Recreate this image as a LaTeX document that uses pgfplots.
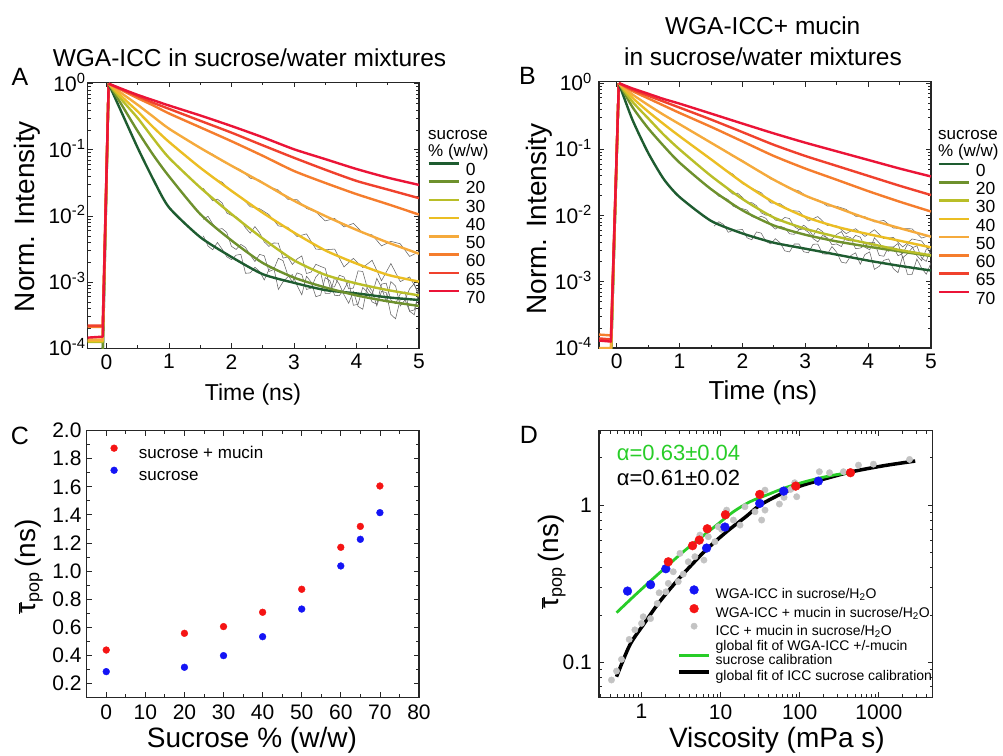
\documentclass[border=0pt]{standalone}
\usepackage{fontspec}
\setmainfont{Liberation Sans}
\usepackage{pgfplots}
\pgfplotsset{compat=1.18}

\definecolor{c0}{RGB}{30,92,48}
\definecolor{c20}{RGB}{110,145,45}
\definecolor{c30}{RGB}{185,190,40}
\definecolor{c40}{RGB}{235,190,35}
\definecolor{c50}{RGB}{245,170,60}
\definecolor{c60}{RGB}{245,125,45}
\definecolor{c65}{RGB}{240,65,45}
\definecolor{c70}{RGB}{235,20,55}
\definecolor{noisegray}{RGB}{100,100,100}
\definecolor{dblue}{RGB}{20,20,245}
\definecolor{dred}{RGB}{245,20,20}
\definecolor{dgray}{RGB}{195,195,195}
\definecolor{fitgreen}{RGB}{40,205,40}

\newcommand\fs[1]{\fontsize{#1}{#1}\selectfont}

\pgfplotsset{
 panel/.style={
  scale only axis, anchor=south west,
  axis line style={line width=1.1pt, black!85},
  every tick/.append style={line width=0.8pt, black!85},
  major tick length=5pt, minor tick length=3pt,
  tick align=inside,
  tick label style={font=\fs{21}},
  label style={font=\fs{28}},
 },
 curve/.style={line width=2.4pt, line join=round, smooth, tension=0.4},
 rise/.style={line width=2.4pt, line join=round, forget plot},
 noise/.style={noisegray, line width=0.55pt, forget plot},
 decaylegend/.style={
  legend style={draw=none, fill=none, inner sep=0pt, font=\fs{17.5}, row sep=4.7pt,
    nodes={inner sep=0pt, text height=12.5pt, text depth=0pt}},
  legend image code/.code={\draw[##1, line width=2.6pt] (0pt,6pt) -- (30pt,6pt);},
  legend cell align=left,
 },
 dotlegC/.style={legend image code/.code={\draw[##1] plot coordinates {(3.5pt,4.3pt)};}},
 dotlegD/.style={legend image code/.code={\draw[##1] plot coordinates {(15.3pt,4.5pt)};}},
 linelegD/.style={legend image code/.code={\draw[##1] (0pt,4.5pt) -- (30.6pt,4.5pt);}},
 linelegDtwo/.style={legend image code/.code={\draw[##1] (0pt,-2.5pt) -- (30.6pt,-2.5pt);}},
 logminor/.style={
  minor ytick={2e-4,3e-4,4e-4,5e-4,6e-4,7e-4,8e-4,9e-4,2e-3,3e-3,4e-3,5e-3,6e-3,7e-3,8e-3,9e-3,0.02,0.03,0.04,0.05,0.06,0.07,0.08,0.09,0.2,0.3,0.4,0.5,0.6,0.7,0.8,0.9},
  ytick={1e-4,1e-3,1e-2,1e-1,1},
  yticklabels={10\textsuperscript{-4},10\textsuperscript{-3},10\textsuperscript{-2},10\textsuperscript{-1},10\textsuperscript{0}},
  xtick={0,1,2,3,4,5}, xticklabels={0,1,2,3,4,5},
  minor xtick={0.5,1.5,2.5,3.5,4.5},
 },
}

\begin{document}
\begin{tikzpicture}[x=1pt,y=1pt]
\useasboundingbox (0,0) rectangle (1003,755);

% ---------------- Panel A ----------------
\begin{axis}[panel, decaylegend, logminor, at={(87.7pt,406.7pt)}, width=331.3pt, height=266pt,
  xmin=-0.3, xmax=5, ymode=log, ymin=1e-4, ymax=1.05,
  yticklabel style={anchor=base east, yshift=-7.5pt, inner xsep=2pt},
  xticklabel style={inner ysep=6pt},
  xlabel={Time (ns)}, ylabel={Norm. Intensity},
  xlabel style={at={(axis description cs:0.499,-0.172)}, anchor=center, font=\fs{23}},
  ylabel style={at={(axis description cs:-0.182,0.495)}, anchor=center},
  legend style={at={(axis description cs:1.0242,0.7008)}, anchor=north west, column sep=6pt},
]
\addplot[noise] coordinates {(1.55,0.0990)(1.70,0.0861)(1.85,0.0673)(2.00,0.0578)(2.15,0.0498)(2.30,0.0372)(2.45,0.0348)(2.60,0.0277)(2.75,0.0247)(2.90,0.0179)(3.05,0.0176)(3.20,0.0130)(3.35,0.0115)(3.50,0.00843)(3.65,0.00917)(3.80,0.00684)(3.95,0.00772)(4.10,0.00555)(4.25,0.00519)(4.40,0.00353)(4.55,0.00414)(4.70,0.00380)(4.85,0.00245)(5.00,0.00288)};
\addplot[noise] coordinates {(1.55,0.0501)(1.70,0.0380)(1.85,0.0324)(2.00,0.0234)(2.15,0.0195)(2.30,0.0138)(2.45,0.0129)(2.60,0.0105)(2.75,0.00708)(2.90,0.00676)(3.05,0.00490)(3.20,0.00537)(3.35,0.00316)(3.50,0.00309)(3.65,0.00316)(3.80,0.00170)(3.95,0.00229)(4.10,0.00166)(4.25,0.00214)(4.40,0.00105)(4.55,0.00191)(4.70,0.00102)(4.85,0.00120)(5.00,0.000676)};
\addplot[noise] coordinates {(1.55,0.0263)(1.625,0.0207)(1.70,0.0170)(1.775,0.0180)(1.85,0.0158)(1.925,0.0111)(2.00,0.0102)(2.075,0.00973)(2.15,0.00851)(2.225,0.00661)(2.30,0.00550)(2.375,0.00692)(2.45,0.00556)(2.525,0.00405)(2.60,0.00347)(2.675,0.00391)(2.75,0.00389)(2.825,0.00231)(2.90,0.00240)(2.975,0.00185)(3.05,0.00224)(3.125,0.00249)(3.20,0.00135)(3.275,0.00142)(3.35,0.00186)(3.425,0.00173)(3.50,0.00162)(3.575,0.000841)(3.65,0.000851)(3.725,0.00127)(3.80,0.00120)(3.875,0.000793)(3.95,0.000813)(4.025,0.00148)(4.10,0.00145)(4.175,0.000804)(4.25,0.000646)(4.325,0.00114)(4.40,0.000832)(4.475,0.000507)(4.55,0.00102)(4.625,0.000875)(4.70,0.000437)(4.775,0.000537)(4.85,0.000794)(4.925,0.000951)(5.00,0.000575)};
\addplot[noise] coordinates {(1.55,0.00891)(1.625,0.00989)(1.70,0.00759)(1.775,0.00624)(1.85,0.00646)(1.925,0.00562)(2.00,0.00347)(2.075,0.00312)(2.15,0.00372)(2.225,0.00334)(2.30,0.00257)(2.375,0.00205)(2.45,0.00263)(2.525,0.00250)(2.60,0.00145)(2.675,0.00155)(2.75,0.00229)(2.825,0.00211)(2.90,0.00129)(2.975,0.00101)(3.05,0.00138)(3.125,0.00130)(3.20,0.000776)(3.275,0.000811)(3.35,0.00120)(3.425,0.00143)(3.50,0.000676)(3.575,0.000676)(3.65,0.00117)(3.725,0.000933)(3.80,0.000646)(3.875,0.000480)(3.95,0.000724)(4.025,0.000431)(4.10,0.000389)(4.175,0.000897)(4.25,0.000741)(4.325,0.000437)(4.40,0.000724)(4.475,0.000697)(4.55,0.000324)(4.625,0.000279)(4.70,0.000550)(4.775,0.000546)(4.85,0.000363)(4.925,0.000321)(5.00,0.000759)};
\addplot[noise] coordinates {(1.55,0.00501)(1.625,0.00351)(1.70,0.00309)(1.775,0.00398)(1.85,0.00316)(1.925,0.00242)(2.00,0.00219)(2.075,0.00256)(2.15,0.00263)(2.225,0.00136)(2.30,0.00138)(2.375,0.00168)(2.45,0.00145)(2.525,0.00108)(2.60,0.00155)(2.675,0.00168)(2.75,0.000776)(2.825,0.00101)(2.90,0.00120)(2.975,0.00130)(3.05,0.000891)(3.125,0.000642)(3.20,0.00123)(3.275,0.00100)(3.35,0.000603)(3.425,0.000635)(3.50,0.00117)(3.575,0.00105)(3.65,0.000631)(3.725,0.000626)(3.80,0.000776)(3.875,0.00105)(3.95,0.000447)(4.025,0.000462)(4.10,0.000832)(4.175,0.000708)(4.25,0.000501)(4.325,0.000465)(4.40,0.000933)(4.475,0.000966)(4.55,0.000537)(4.625,0.000472)(4.70,0.000661)(4.775,0.000716)(4.85,0.000363)(4.925,0.000381)(5.00,0.000724)};
% rising edges (instrument response)
\addplot[rise, c0] coordinates {(-0.3,7e-5)(-0.06,7e-5)(0.035,1)};
\addplot[rise, c20] coordinates {(-0.3,9e-5)(-0.06,9e-5)(0.035,1)};
\addplot[rise, c30] coordinates {(-0.3,1.25e-4)(-0.06,1.25e-4)(0.035,1)};
\addplot[rise, c40] coordinates {(-0.3,1.3e-4)(-0.06,1.3e-4)(0.035,1)};
\addplot[rise, c50] coordinates {(-0.3,1.35e-4)(-0.06,1.35e-4)(0.035,1)};
\addplot[rise, c60] coordinates {(-0.3,2.1e-4)(-0.06,2.1e-4)(0.035,1)};
\addplot[rise, c65] coordinates {(-0.3,2.2e-4)(-0.06,2.2e-4)(0.035,1)};
\addplot[rise, c70] coordinates {(-0.3,1.45e-4)(-0.06,1.5e-4)(0.035,1)};
% decays
\addplot[curve, c0] coordinates {(0.035,1)(0.25,0.355)(0.5,0.107)(0.75,0.0355)(1,0.0135)(1.5,0.00479)(2,0.00240)(2.5,0.00132)(3,0.000977)(3.5,0.000759)(4,0.000676)(4.5,0.000589)(5,0.000537)};
\addlegendentry{0}
\addplot[curve, c20] coordinates {(0.035,1)(0.25,0.468)(0.5,0.191)(0.75,0.0832)(1,0.0398)(1.5,0.0107)(2,0.00427)(2.5,0.00195)(3,0.00117)(3.5,0.000832)(4,0.000631)(4.5,0.000513)(5,0.000437)};
\addlegendentry{20}
\addplot[curve, c30] coordinates {(0.035,1)(0.25,0.562)(0.5,0.302)(0.75,0.148)(1,0.0759)(1.5,0.0269)(2,0.0107)(2.5,0.00457)(3,0.00214)(3.5,0.00129)(4,0.000955)(4.5,0.000759)(5,0.000631)};
\addlegendentry{30}
\addplot[curve, c40] coordinates {(0.035,1)(0.25,0.631)(0.5,0.380)(0.75,0.219)(1,0.132)(1.5,0.0537)(2,0.0240)(2.5,0.0112)(3,0.00562)(3.5,0.00302)(4,0.00191)(4.5,0.00129)(5,0.00102)};
\addlegendentry{40}
\addplot[curve, c50] coordinates {(0.035,1)(0.25,0.708)(0.5,0.479)(0.75,0.316)(1,0.209)(1.5,0.107)(2,0.0575)(2.5,0.0316)(3,0.0170)(3.5,0.0100)(4,0.00617)(4.5,0.00398)(5,0.00269)};
\addlegendentry{50}
\addplot[curve, c60] coordinates {(0.035,1)(0.25,0.794)(0.5,0.603)(0.75,0.468)(1,0.355)(1.5,0.219)(2,0.135)(2.5,0.0813)(3,0.0479)(3.5,0.0316)(4,0.0214)(4.5,0.0151)(5,0.0105)};
\addlegendentry{60}
\addplot[curve, c65] coordinates {(0.035,1)(0.25,0.813)(0.5,0.646)(0.75,0.513)(1,0.417)(1.5,0.275)(2,0.182)(2.5,0.117)(3,0.0759)(3.5,0.0501)(4,0.0339)(4.5,0.0251)(5,0.0186)};
\addlegendentry{65}
\addplot[curve, c70] coordinates {(0.035,1)(0.25,0.832)(0.5,0.676)(0.75,0.562)(1,0.468)(1.5,0.331)(2,0.229)(2.5,0.155)(3,0.102)(3.5,0.0724)(4,0.0513)(4.5,0.0380)(5,0.0295)};
\addlegendentry{70}
\end{axis}

% ---------------- Panel B ----------------
\begin{axis}[panel, decaylegend, logminor, at={(599pt,407pt)}, width=332pt, height=266.3pt,
  xmin=-0.28, xmax=5, ymode=log, ymin=1e-4, ymax=1.05,
  yticklabel style={anchor=base east, yshift=-7.5pt, inner xsep=7pt},
  xticklabel style={inner ysep=6pt},
  xlabel={Time (ns)}, ylabel={Norm. Intensity},
  xlabel style={at={(axis description cs:0.494,-0.169)}, anchor=center, font=\fs{26}},
  ylabel style={at={(axis description cs:-0.181,0.484)}, anchor=center},
  legend style={at={(axis description cs:1.021,0.696)}, anchor=north west, column sep=5pt},
]
\addplot[noise] coordinates {(1.55,0.117)(1.70,0.0995)(1.85,0.0780)(2.00,0.0682)(2.15,0.0543)(2.30,0.0451)(2.45,0.0356)(2.60,0.0317)(2.75,0.0256)(2.90,0.0236)(3.05,0.0188)(3.20,0.0173)(3.35,0.0139)(3.50,0.0138)(3.65,0.0124)(3.80,0.00977)(3.95,0.00959)(4.10,0.00800)(4.25,0.00843)(4.40,0.00646)(4.55,0.00638)(4.70,0.00630)(4.85,0.00457)(5.00,0.00506)};
\addplot[noise] coordinates {(1.55,0.0652)(1.70,0.0504)(1.85,0.0422)(2.00,0.0303)(2.15,0.0259)(2.30,0.0221)(2.45,0.0155)(2.60,0.0151)(2.75,0.0120)(2.90,0.0116)(3.05,0.00828)(3.20,0.00966)(3.35,0.00706)(3.50,0.00700)(3.65,0.00535)(3.80,0.00634)(3.95,0.00484)(4.10,0.00610)(4.25,0.00447)(4.40,0.00468)(4.55,0.00336)(4.70,0.00443)(4.85,0.00413)(5.00,0.00268)};
\addplot[noise] coordinates {(1.55,0.0359)(1.625,0.0328)(1.70,0.0294)(1.775,0.0243)(1.85,0.0210)(1.925,0.0218)(2.00,0.0188)(2.075,0.0156)(2.15,0.0157)(2.225,0.0141)(2.30,0.0110)(2.375,0.0101)(2.45,0.0104)(2.525,0.00851)(2.60,0.00824)(2.675,0.00935)(2.75,0.00902)(2.825,0.00681)(2.90,0.00614)(2.975,0.00714)(3.05,0.00627)(3.125,0.00493)(3.20,0.00640)(3.275,0.00575)(3.35,0.00432)(3.425,0.00444)(3.50,0.00520)(3.575,0.00572)(3.65,0.00428)(3.725,0.00413)(3.80,0.00501)(3.875,0.00473)(3.95,0.00331)(4.025,0.00304)(4.10,0.00462)(4.175,0.00387)(4.25,0.00314)(4.325,0.00288)(4.40,0.00333)(4.475,0.00379)(4.55,0.00230)(4.625,0.00265)(4.70,0.00324)(4.775,0.00351)(4.85,0.00228)(4.925,0.00203)(5.00,0.00329)};
\addplot[noise] coordinates {(1.55,0.0230)(1.625,0.0195)(1.70,0.0189)(1.775,0.0174)(1.85,0.0139)(1.925,0.0129)(2.00,0.0127)(2.075,0.0121)(2.15,0.00966)(2.225,0.00910)(2.30,0.00976)(2.375,0.00906)(2.45,0.00721)(2.525,0.00624)(2.60,0.00691)(2.675,0.00651)(2.75,0.00530)(2.825,0.00521)(2.90,0.00610)(2.975,0.00627)(3.05,0.00560)(3.125,0.00449)(3.20,0.00400)(3.275,0.00500)(3.35,0.00465)(3.425,0.00363)(3.50,0.00373)(3.575,0.00340)(3.65,0.00490)(3.725,0.00462)(3.80,0.00316)(3.875,0.00323)(3.95,0.00355)(4.025,0.00393)(4.10,0.00395)(4.175,0.00250)(4.25,0.00243)(4.325,0.00335)(4.40,0.00337)(4.475,0.00247)(4.55,0.00267)(4.625,0.00365)(4.70,0.00339)(4.775,0.00248)(4.85,0.00208)(4.925,0.00310)(5.00,0.00331)};
\addplot[noise] coordinates {(1.55,0.00692)(1.625,0.00808)(1.70,0.00735)(1.775,0.00559)(1.85,0.00597)(1.925,0.00605)(2.00,0.00617)(2.075,0.00461)(2.15,0.00431)(2.225,0.00566)(2.30,0.00543)(2.375,0.00405)(2.45,0.00374)(2.525,0.00447)(2.60,0.00388)(2.675,0.00293)(2.75,0.00282)(2.825,0.00372)(2.90,0.00372)(2.975,0.00284)(3.05,0.00274)(3.125,0.00368)(3.20,0.00371)(3.275,0.00264)(3.35,0.00261)(3.425,0.00340)(3.50,0.00279)(3.575,0.00198)(3.65,0.00191)(3.725,0.00249)(3.80,0.00274)(3.875,0.00184)(3.95,0.00258)(4.025,0.00283)(4.10,0.00154)(4.175,0.00171)(4.25,0.00211)(4.325,0.00221)(4.40,0.00158)(4.475,0.00137)(4.55,0.00243)(4.625,0.00129)(4.70,0.00130)(4.775,0.00221)(4.85,0.00161)(4.925,0.00130)(5.00,0.00193)};
% rising edges
\addplot[rise, c0] coordinates {(-0.3,7e-5)(-0.09,7e-5)(0.035,1)};
\addplot[rise, c20] coordinates {(-0.3,7e-5)(-0.09,7e-5)(0.035,1)};
\addplot[rise, c30] coordinates {(-0.3,8e-5)(-0.09,8e-5)(0.035,1)};
\addplot[rise, c40] coordinates {(-0.3,9e-5)(-0.09,9e-5)(0.035,1)};
\addplot[rise, c50] coordinates {(-0.3,1.0e-4)(-0.09,1.0e-4)(0.035,1)};
\addplot[rise, c60] coordinates {(-0.3,1.6e-4)(-0.09,1.55e-4)(0.035,1)};
\addplot[rise, c65] coordinates {(-0.3,1.4e-4)(-0.09,1.35e-4)(0.035,1)};
\addplot[rise, c70] coordinates {(-0.3,1.3e-4)(-0.09,1.25e-4)(0.035,1)};
% decays
\addplot[curve, c0] coordinates {(0.035,1)(0.25,0.282)(0.5,0.0891)(0.75,0.0355)(1,0.0191)(1.5,0.00832)(2,0.00537)(2.5,0.00389)(3,0.00316)(3.5,0.00257)(4,0.00209)(4.5,0.00174)(5,0.00148)};
\addlegendentry{0}
\addplot[curve, c20] coordinates {(0.035,1)(0.25,0.437)(0.5,0.209)(0.75,0.112)(1,0.0631)(1.5,0.0251)(2,0.0120)(2.5,0.00708)(3,0.00513)(3.5,0.00407)(4,0.00339)(4.5,0.00288)(5,0.00245)};
\addlegendentry{20}
\addplot[curve, c30] coordinates {(0.035,1)(0.25,0.525)(0.5,0.295)(0.75,0.166)(1,0.100)(1.5,0.0398)(2,0.0178)(2.5,0.00933)(3,0.00631)(3.5,0.00479)(4,0.00380)(4.5,0.00302)(5,0.00251)};
\addlegendentry{30}
\addplot[curve, c40] coordinates {(0.035,1)(0.25,0.603)(0.5,0.372)(0.75,0.240)(1,0.158)(1.5,0.0708)(2,0.0316)(2.5,0.0158)(3,0.00955)(3.5,0.00676)(4,0.00525)(4.5,0.00417)(5,0.00331)};
\addlegendentry{40}
\addplot[curve, c50] coordinates {(0.035,1)(0.25,0.676)(0.5,0.468)(0.75,0.331)(1,0.240)(1.5,0.126)(2,0.0661)(2.5,0.0347)(3,0.0200)(3.5,0.0132)(4,0.00891)(4.5,0.00646)(5,0.00479)};
\addlegendentry{50}
\addplot[curve, c60] coordinates {(0.035,1)(0.25,0.759)(0.5,0.589)(0.75,0.457)(1,0.355)(1.5,0.219)(2,0.132)(2.5,0.0794)(3,0.0513)(3.5,0.0347)(4,0.0234)(4.5,0.0162)(5,0.0115)};
\addlegendentry{60}
\addplot[curve, c65] coordinates {(0.035,1)(0.25,0.794)(0.5,0.646)(0.75,0.525)(1,0.427)(1.5,0.282)(2,0.182)(2.5,0.117)(3,0.0794)(3.5,0.0562)(4,0.0398)(4.5,0.0282)(5,0.0204)};
\addlegendentry{65}
\addplot[curve, c70] coordinates {(0.035,1)(0.25,0.832)(0.5,0.692)(0.75,0.575)(1,0.490)(1.5,0.347)(2,0.245)(2.5,0.174)(3,0.126)(3.5,0.0933)(4,0.0692)(4.5,0.0513)(5,0.0389)};
\addlegendentry{70}
\end{axis}

% ---------------- Panel C ----------------
\begin{axis}[panel, dotlegC, at={(86.7pt,57.7pt)}, width=332.3pt, height=266.6pt,
  xmin=-5, xmax=80, ymin=0.1, ymax=2.0,
  xtick={0,10,20,30,40,50,60,70,80}, xticklabels={0,10,20,30,40,50,60,70,80},
  minor xtick={5,15,25,35,45,55,65,75},
  ytick={0.2,0.4,0.6,0.8,1.0,1.2,1.4,1.6,1.8,2.0},
  yticklabels={0.2,0.4,0.6,0.8,1.0,1.2,1.4,1.6,1.8,2.0},
  minor ytick={0.1,0.3,0.5,0.7,0.9,1.1,1.3,1.5,1.7,1.9},
  yticklabel style={inner xsep=5pt},
  xticklabel style={inner ysep=7pt},
  xlabel={Sucrose \% (w/w)},
  ylabel={$\overline{\mbox{τ}}_{\mbox{\fs{18}pop}}$\,(ns)},
  xlabel style={at={(axis description cs:0.497,-0.160)}, anchor=center},
  ylabel style={at={(axis description cs:-0.174,0.49)}, anchor=center},
  legend style={at={(axis description cs:0.0716,0.948)}, anchor=north west, draw=none, fill=none,
    inner sep=0pt, font=\fs{17}, column sep=21.5pt, row sep=8.2pt,
    nodes={inner sep=0pt, text height=12.4pt, text depth=0pt}},
  legend cell align=left,
]
\addplot[only marks, mark=*, dred, mark size=3.4pt] coordinates {(0,0.437)(20,0.556)(30,0.604)(40,0.706)(50,0.870)(60,1.169)(65,1.318)(70,1.606)};
\addlegendentry{sucrose + mucin}
\addplot[only marks, mark=*, dblue, mark size=3.4pt] coordinates {(0,0.283)(20,0.314)(30,0.397)(40,0.532)(50,0.729)(60,1.036)(65,1.226)(70,1.416)};
\addlegendentry{sucrose}
\end{axis}

% ---------------- Panel D ----------------
\begin{axis}[panel, at={(599pt,57.7pt)}, width=333.7pt, height=266.6pt,
  xmode=log, ymode=log, xmin=0.29, xmax=4800, ymin=0.06, ymax=2.97,
  xtick={1,10,100,1000}, xticklabels={1,10,100,1000},
  minor xtick={0.3,0.4,0.5,0.6,0.7,0.8,0.9,2,3,4,5,6,7,8,9,20,30,40,50,60,70,80,90,200,300,400,500,600,700,800,900,2000,3000,4000},
  ytick={0.1,1}, yticklabels={0.1,1},
  minor ytick={0.07,0.08,0.09,0.2,0.3,0.4,0.5,0.6,0.7,0.8,0.9,2},
  yticklabel style={inner xsep=7pt},
  xticklabel style={inner ysep=7pt},
  xlabel={Viscosity (mPa s)},
  ylabel={$\overline{\mbox{τ}}_{\mbox{\fs{18}pop}}$\,(ns)},
  xlabel style={at={(axis description cs:0.533,-0.160)}, anchor=center},
  ylabel style={at={(axis description cs:-0.142,0.509)}, anchor=center},
  legend style={at={(axis description cs:0.2328,0.420)}, anchor=north west, draw=none, fill=none,
    inner sep=0pt, font=\fs{14}, column sep=4.4pt, row sep=4pt, cells={align=left},
    nodes={inner sep=0pt}},
  legend cell align=left,
]
\addplot[only marks, mark=*, dgray, mark size=3.2pt, forget plot] coordinates {(0.417,0.0773)(0.483,0.0881)(0.558,0.1045)(0.698,0.140)(0.824,0.161)(1.0,0.177)(1.05,0.195)(1.30,0.190)(1.58,0.237)(1.67,0.277)(2.03,0.281)(2.18,0.318)(2.52,0.377)(2.91,0.326)(3.37,0.364)(3.06,0.493)(3.90,0.436)(4.73,0.470)(6.15,0.447)(5.47,0.645)(6.98,0.629)(8.47,0.585)(9.34,0.728)(10.3,0.700)(11.9,0.929)(14.5,0.803)(17.6,0.746)(20.3,0.976)(27.2,0.907)(33.0,0.803)(36.4,0.929)(36.4,1.245)(55.3,1.015)(63.4,1.119)(76.9,1.258)(91.6,1.13)(86.4,1.387)(177,1.63)(238,1.606)(357,1.63)(553,1.795)(855,1.82)(2444,1.95)};
\addplot[black, line width=3.5pt, smooth, forget plot] coordinates {(0.483,0.0811)(0.711,0.129)(1.05,0.173)(1.63,0.237)(2.52,0.310)(4.09,0.406)(6.65,0.523)(11.9,0.677)(21.3,0.851)(31.5,1.0)(62.1,1.197)(101,1.32)(172,1.43)(434,1.62)(1145,1.778)(2884,1.905)};
\addplot[fitgreen, line width=2.8pt, smooth, forget plot] coordinates {(0.483,0.207)(0.785,0.261)(1.27,0.326)(2.07,0.406)(3.37,0.505)(5.47,0.614)(8.89,0.746)(14.5,0.907)(23.5,1.05)(38.2,1.158)(62.1,1.276)(101,1.38)(164,1.47)(267,1.55)(434,1.606)};
\addplot[only marks, mark=*, dblue, mark size=4.4pt, forget plot] coordinates {(0.665,0.284)(1.30,0.312)(2.03,0.394)(6.65,0.533)(11.35,0.725)(31.2,1.025)(62.7,1.227)(172,1.42)};
\addplot[only marks, mark=*, dred, mark size=4.4pt, forget plot] coordinates {(2.18,0.436)(4.42,0.552)(5.37,0.599)(6.78,0.707)(11.5,0.868)(31.2,1.169)(89,1.32)(438,1.606)};
\addlegendimage{only marks, mark=*, dblue, mark size=4.4pt, dotlegD}
\addlegendentry{WGA-ICC in sucrose/H\textsubscript{2}O}
\addlegendimage{only marks, mark=*, dred, mark size=4.4pt, dotlegD}
\addlegendentry{WGA-ICC + mucin in sucrose/H\textsubscript{2}O}
\addlegendimage{only marks, mark=*, dgray, mark size=3.2pt, dotlegD}
\addlegendentry{ICC + mucin in sucrose/H\textsubscript{2}O}
\addlegendimage{fitgreen, line width=2.8pt, linelegDtwo}
\addlegendentry{global fit of WGA-ICC +/-mucin\\sucrose calibration}
\addlegendimage{black, line width=3.8pt, linelegD}
\addlegendentry{global fit of ICC sucrose calibration}
\end{axis}

% ---------------- Text annotations ----------------
\node[font=\fs{24.5}] at (249.5,697.5) {WGA-ICC in sucrose/water mixtures};
\node[font=\fs{24.5}] at (762.7,729) {WGA-ICC+ mucin};
\node[font=\fs{24.5}] at (763,698) {in sucrose/water mixtures};
\node[font=\fs{25}] at (20,678) {A};
\node[font=\fs{25}] at (527.5,679) {B};
\node[font=\fs{25}] at (20,319) {C};
\node[font=\fs{25}] at (529,320) {D};
\node[font=\fs{17}, anchor=west, inner sep=0pt, text height=9pt, text depth=1pt] at (428,619.3) {sucrose};
\node[font=\fs{17}, anchor=west, inner sep=0pt, text height=9pt, text depth=1pt] at (428,602.8) {\% (w/w)};
\node[font=\fs{17}, anchor=west, inner sep=0pt, text height=9pt, text depth=1pt] at (938,619.8) {sucrose};
\node[font=\fs{17}, anchor=west, inner sep=0pt, text height=9pt, text depth=1pt] at (938,602.8) {\% (w/w)};
\node[font=\fs{22}, anchor=west, inner sep=0pt, text=fitgreen] at (616.7,302.3) {α=0.63±0.04};
\node[font=\fs{22}, anchor=west, inner sep=0pt] at (616.7,277) {α=0.61±0.02};
\end{tikzpicture}
\end{document}
